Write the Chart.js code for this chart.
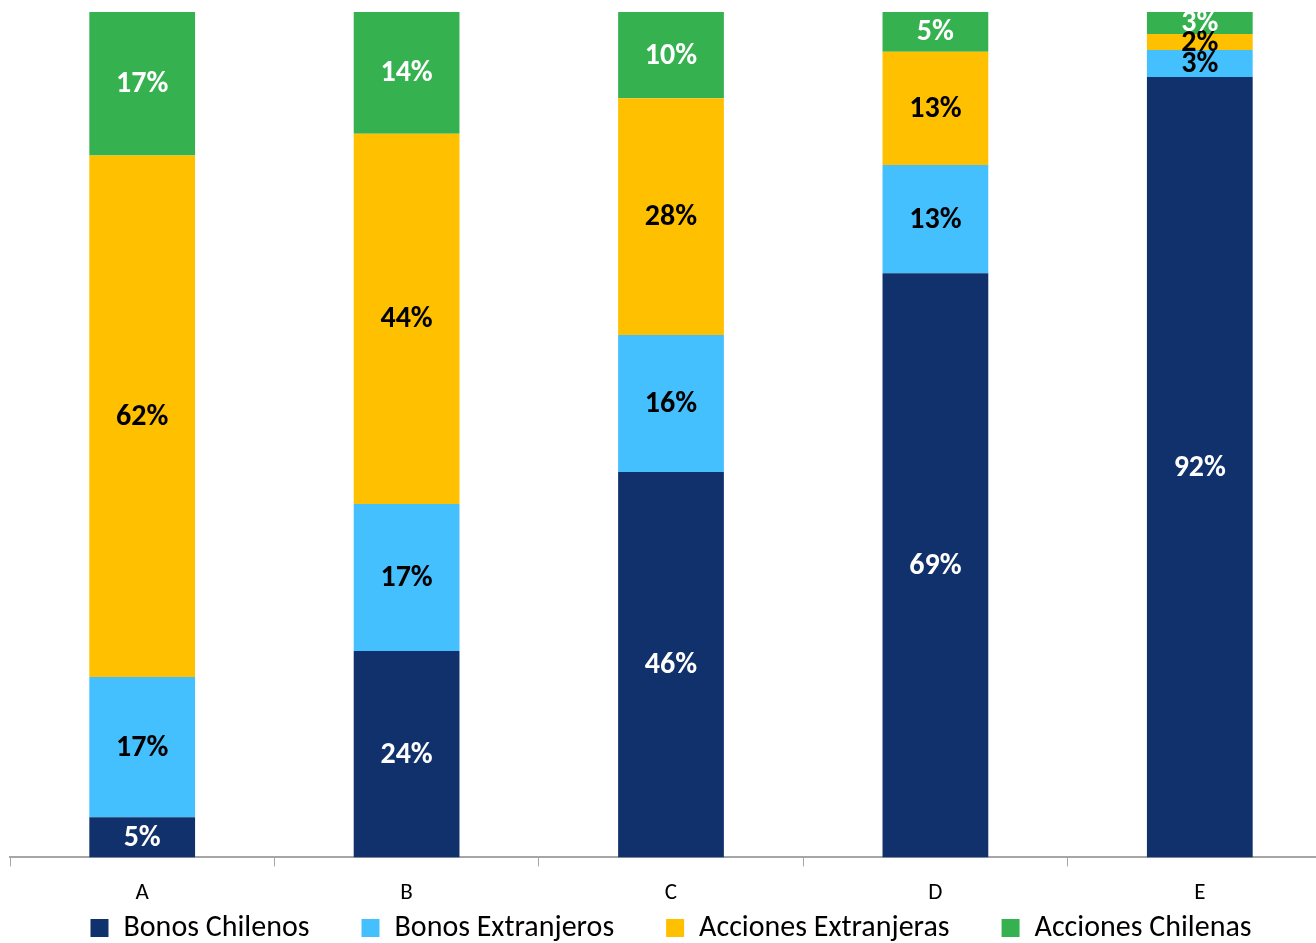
<!DOCTYPE html>
<html>
<head>
<meta charset="utf-8">
<script src="https://cdn.jsdelivr.net/npm/chart.js@4.4.1/dist/chart.umd.min.js"></script>
<style>
  html, body { margin: 0; padding: 0; background: #fff; overflow: hidden; }
  #wrap { width: 1336px; height: 943px; position: relative; }
</style>
</head>
<body>
<div id="wrap"><canvas id="fundsChart"></canvas></div>
<script>
// categories (fondos)
const fondos = ['A', 'B', 'C', 'D', 'E'];

// series, share of each fund (%)
const bonosChilenos       = [4.74, 24.4, 45.6, 69.1, 92.3];
const bonosExtranjeros    = [16.6, 17.4, 16.2, 12.8, 3.2];
const accionesExtranjeras = [61.7, 43.8, 28.0, 13.4, 1.9];
const accionesChilenas    = [16.96, 14.4, 10.2, 4.7, 2.6];

const seriesNames = ['Bonos Chilenos', 'Bonos Extranjeros', 'Acciones Extranjeras', 'Acciones Chilenas'];
const seriesColors = ['#10316b', '#45c0ff', '#ffc000', '#35b24f'];
const labelColors = ['#ffffff', '#000000', '#000000', '#ffffff'];

const FONT = 'Carlito, "Open Sans", Lato, sans-serif';
const LEGEND_SIZE = 30;
const LEGEND_PAD = 52;

// simple inline data labels (no datalabels plugin available)
const barLabels = {
    id: 'barLabels',
    afterDatasetsDraw(chart){
        const ctx = chart.ctx;
        ctx.save();
        ctx.font = 'bold 30px ' + FONT;
        ctx.textAlign = 'center';
        ctx.textBaseline = 'middle';
        chart.data.datasets.forEach((ds, i) => {
            const meta = chart.getDatasetMeta(i);
            meta.data.forEach((bar, j) => {
                const v = ds.data[j];
                const y = (bar.y + bar.base) / 2;
                ctx.fillStyle = labelColors[i];
                ctx.fillText(Math.round(v) + '%', bar.x, y + 1);
            });
        });
        ctx.restore();
    }
};

// legend keeps wide gaps between items but should only
// take a thin band under the axis labels
const legendTuck = {
    id: 'legendTuck',
    beforeLayout(chart){
        const lg = chart.legend;
        if (!lg || lg._tucked) return;
        const fit = lg.fit;
        lg.fit = function(){ fit.call(this); this.height = 23; };
        lg._tucked = true;
    },
    afterLayout(chart){
        const lg = chart.legend;
        // move the box top up so the text centre sits at y = 928 (bottom stays)
        lg.top = 928 - LEGEND_PAD - LEGEND_SIZE / 2;
        lg.height = lg.bottom - lg.top;
    }
};

const allSeries = [bonosChilenos, bonosExtranjeros, accionesExtranjeras, accionesChilenas];

const ctx = document.getElementById('fundsChart').getContext('2d');
window.fundsChart = new Chart(ctx, {
    type: 'bar',
    data: {
        labels: fondos,
        datasets: allSeries.map((vals, i) => ({
            label: seriesNames[i],
            data: vals,
            backgroundColor: seriesColors[i],
            borderWidth: 0,
            barPercentage: 0.4,
            categoryPercentage: 1
        }))
    },
    options: {
        responsive: true,
        maintainAspectRatio: false,
        animation: false,
        layout: { padding: { left: 10, right: 4, top: 12, bottom: 0 } },
        plugins: {
            legend: {
                position: 'bottom',
                labels: {
                    color: '#000',
                    font: { family: FONT, size: LEGEND_SIZE },
                    boxWidth: 18,
                    boxHeight: 18,
                    padding: LEGEND_PAD
                }
            },
            title: { display: false },
            tooltip: { enabled: false }
        },
        scales: {
            x: {
                stacked: true,
                offset: true,
                grid: {
                    display: true,
                    drawOnChartArea: false,
                    drawTicks: true,
                    tickLength: 9,
                    color: '#a6a6a6',
                    offset: true
                },
                border: { color: '#a6a6a6', width: 2 },
                ticks: {
                    color: '#000',
                    font: { family: FONT, size: 23 },
                    padding: 13
                }
            },
            y: {
                stacked: true,
                display: false,
                min: 0,
                max: 100
            }
        }
    },
    plugins: [barLabels, legendTuck]
});
</script>
</body>
</html>
